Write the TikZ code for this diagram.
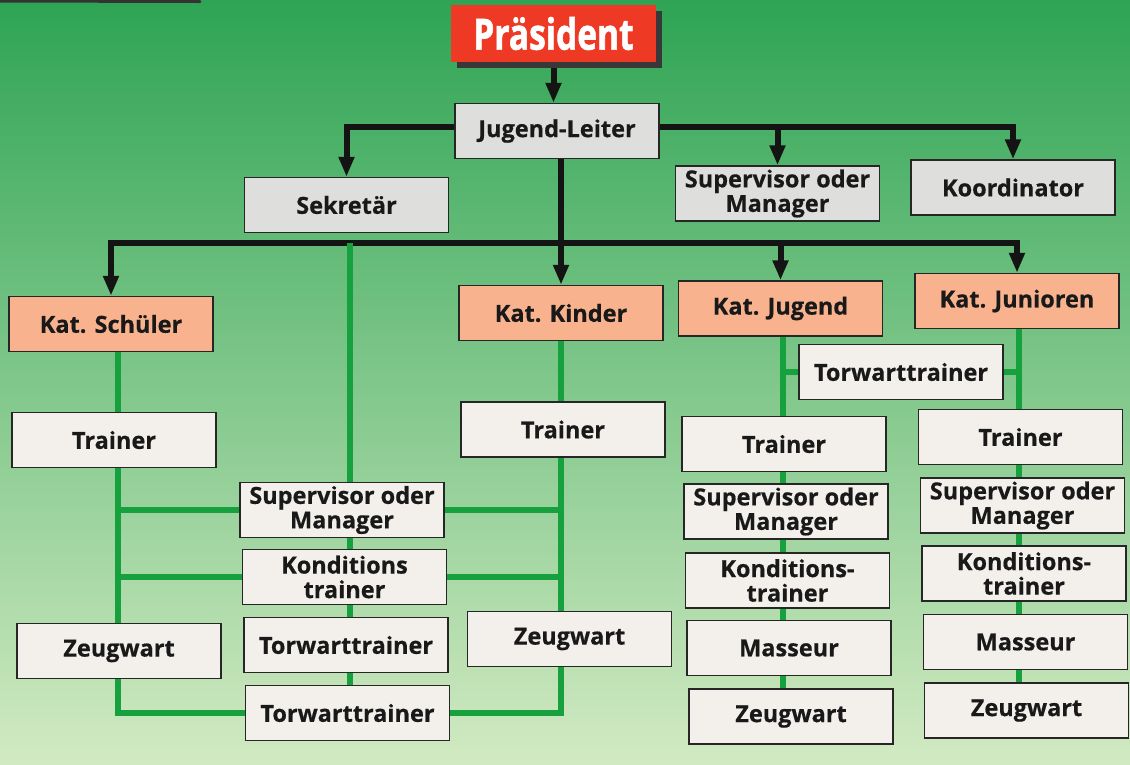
\documentclass[tikz,border=0pt]{standalone}
\usepackage{fontspec}
\setmainfont{Open Sans}
\newfontfamily\boxfont[FakeBold=0.5]{Open Sans Bold}
\newfontfamily\presfont[FakeBold=1.6]{Open Sans Bold}
\usetikzlibrary{arrows.meta,shadows}
\definecolor{bgtop}{RGB}{46,164,84}
\definecolor{bgmid}{RGB}{118,194,132}
\definecolor{bgbot}{RGB}{210,234,194}
\definecolor{grn}{RGB}{22,160,62}
\definecolor{boxgrey}{RGB}{222,222,220}
\definecolor{boxcream}{RGB}{243,240,235}
\definecolor{boxsalmon}{RGB}{248,178,142}
\definecolor{presred}{RGB}{238,58,36}
\pgfdeclarelayer{bg}
\pgfdeclarelayer{lines}
\pgfsetlayers{bg,lines,main}
\tikzset{
  box/.style={draw=black!85, line width=1.5pt, minimum width=204pt, minimum height=55pt,
    inner sep=1pt, align=center, font=\boxfont\fontsize{23.5}{24.5}\selectfont, text=black!90},
  greybox/.style={box, fill=boxgrey},
  creambox/.style={box, fill=boxcream},
  katbox/.style={box, fill=boxsalmon},
  presbox/.style={fill=presred, minimum width=205pt, minimum height=57pt, inner sep=0pt,
    text=white, font=\presfont\fontsize{43}{43}\selectfont,
    drop shadow={shadow xshift=6pt, shadow yshift=-6pt, fill=black!78, opacity=1}},
  arr/.tip={Triangle[length=20pt,width=15pt]},
  blk/.style={line width=6pt, draw=black!92, -arr},
  blkboth/.style={line width=6pt, draw=black!92, arr-arr},
  gline/.style={line width=5.5pt, draw=grn}
}
\begin{document}
\begin{tikzpicture}[x=1pt,y=-1pt]
\useasboundingbox (0,0) rectangle (1130,764);
\begin{pgfonlayer}{bg}
  \shade[top color=bgtop, middle color=bgmid, bottom color=bgbot] (0,0) rectangle (1130,764);
  \draw[line width=3pt, draw=black!80, line cap=round] (0,1) -- (200,1.5);
\end{pgfonlayer}

% top level
\node[presbox] (pres) at (553.5,33.5) {\scalebox{0.78}[1]{Präsident}};
\node[greybox] (jl) at (557,131) {Jugend-Leiter};
\node[greybox] (sek) at (346.5,205) {Sekretär};
\node[greybox] (sup0) at (777.5,193.5) {Supervisor oder\\Manager};
\node[greybox] (koord) at (1013,187.5) {Koordinator};

% categories
\node[katbox] (katS) at (111,324) {Kat. Schüler};
\node[katbox] (katK) at (561,313) {Kat. Kinder};
\node[katbox] (katJ) at (780.5,308.5) {Kat. Jugend};
\node[katbox] (katJu) at (1017,301) {Kat. Junioren};

% Schüler
\node[creambox] (trS) at (114,440) {Trainer};
\node[creambox] (zwS) at (119,651) {Zeugwart};
% shared middle
\node[creambox] (supM) at (342,510) {Supervisor oder\\Manager};
\node[creambox] (konM) at (344.5,577) {Konditions\\trainer};
\node[creambox] (torM1) at (346,645) {Torwarttrainer};
\node[creambox] (torM2) at (347.5,713) {Torwarttrainer};
% Kinder
\node[creambox] (trK) at (563,429.5) {Trainer};
\node[creambox] (zwK) at (569.5,639) {Zeugwart};
% Jugend
\node[creambox] (torJ) at (901,372) {Torwarttrainer};
\node[creambox] (trJ) at (784,444) {Trainer};
\node[creambox] (supJ) at (786,511.5) {Supervisor oder\\Manager};
\node[creambox] (konJ) at (787.5,580.5) {Konditions-\\trainer};
\node[creambox] (masJ) at (789,648) {Masseur};
\node[creambox] (zwJ) at (791,716.5) {Zeugwart};
% Junioren
\node[creambox] (trJu) at (1020.5,437) {Trainer};
\node[creambox] (supJu) at (1022.5,505.5) {Supervisor oder\\Manager};
\node[creambox] (konJu) at (1024,573.5) {Konditions-\\trainer};
\node[creambox] (masJu) at (1025.5,642) {Masseur};
\node[creambox] (zwJu) at (1026.5,710.5) {Zeugwart};

\coordinate (busC) at (561,243);
\coordinate (jlbar) at (0,127);
\coordinate (gS) at (118,0);
\coordinate (gM) at (350,243);
\coordinate (gK) at (561,0);
\coordinate (gJ) at (783,0);
\coordinate (gJu) at (1019,0);

\begin{pgfonlayer}{lines}
  % black hierarchy
  \draw[blk] (pres.south) -- (pres.south |- jl.north);
  \draw[blk] (jl.west |- jlbar) -| (sek.north);
  \draw[blk] (jl.east |- jlbar) -| (koord.north);
  \draw[blk] (sup0.north |- jlbar) -- (sup0.north);
  \draw[line width=6pt, draw=black!92] (jl.south -| gK) -- (busC);
  \draw[blkboth] (katS.north) |- (busC) -| (katJu.north);
  \draw[blk] (katK.north |- busC) -- (katK.north);
  \draw[blk] (katJ.north |- busC) -- (katJ.north);
  % green links
  \draw[gline] (gM) -- (gM |- torM2.north);
  \draw[gline] (gS |- katS.south) |- (torM2.west);
  \draw[gline] (gS |- supM.west) -- (supM.west);
  \draw[gline] (gS |- konM.west) -- (konM.west);
  \draw[gline] (gK |- katK.south) |- (torM2.east);
  \draw[gline] (gK |- supM.east) -- (supM.east);
  \draw[gline] (gK |- konM.east) -- (konM.east);
  \draw[gline] (gJ |- katJ.south) -- (gJ |- zwJ.north);
  \draw[gline] (gJ |- torJ.west) -- (torJ.west);
  \draw[gline] (gJu |- katJu.south) -- (gJu |- zwJu.north);
  \draw[gline] (gJu |- torJ.east) -- (torJ.east);
\end{pgfonlayer}
\end{tikzpicture}
\end{document}
